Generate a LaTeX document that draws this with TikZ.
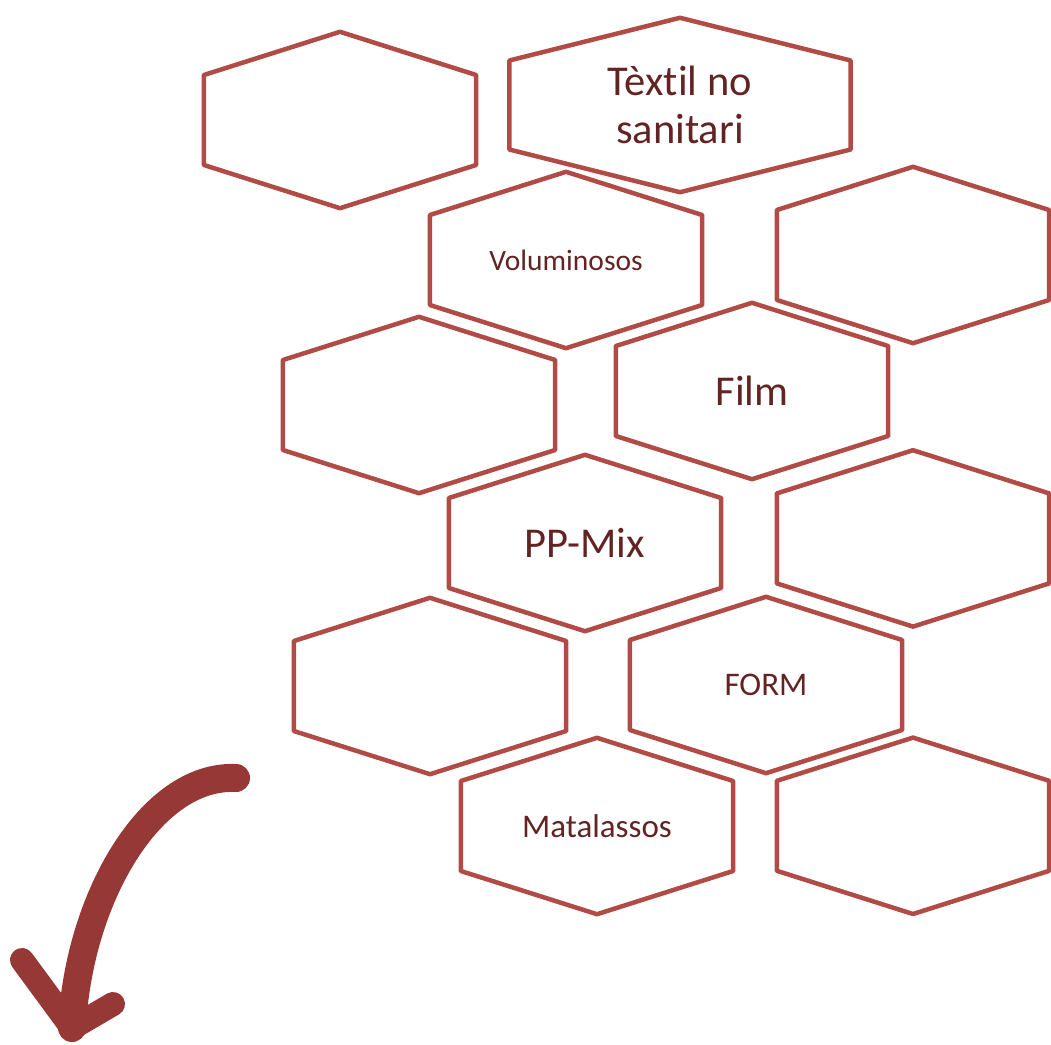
\documentclass[tikz,border=0pt]{standalone}
\usepackage{fontspec}
\setmainfont{Carlito}[Ligatures=NoCommon]
\usepackage{tikz}
\usetikzlibrary{calc, positioning}
\definecolor{hexred}{RGB}{176,75,70}
\definecolor{arrowred}{RGB}{150,56,53}
\definecolor{textred}{RGB}{100,35,35}
\tikzstyle{cell} = [rectangle, minimum width=272pt, minimum height=176pt, inner sep=0pt, text centered, text=textred, align=center]
\tikzstyle{widecell} = [cell, minimum width=341pt, minimum height=174pt]
\tikzstyle{hexline} = [draw=hexred, line width=4.5pt, line join=round]
\tikzstyle{brush} = [draw=arrowred, line width=28pt, line cap=round, line join=round]
\tikzstyle{bigtext} = [font=\fontsize{42.5}{48}\selectfont]
\tikzstyle{midtext} = [font=\fontsize{33}{38}\selectfont]
\tikzstyle{smalltext} = [font=\fontsize{29.5}{34}\selectfont]
\newcommand{\hexframe}[1]{%
	\draw[hexline] (#1.north) -- ($(#1.north east)!0.245!(#1.south east)$) -- ($(#1.north east)!0.755!(#1.south east)$) -- (#1.south) -- ($(#1.north west)!0.755!(#1.south west)$) -- ($(#1.north west)!0.245!(#1.south west)$) -- cycle;}

\begin{document}
\begin{tikzpicture}[x=1pt, y=-1pt]
		\useasboundingbox (0,0) rectangle (1051,1044);
		% hexagon cells
		\node (EmptyA) [cell] at (340,120) {};
		\node (Textil) [widecell, bigtext] at (680,105) {Tèxtil no\\sanitari};
		\node (Voluminosos) [cell, smalltext] at (566,260) {Voluminosos};
		\node (EmptyB) [cell] at (913,255) {};
		\node (EmptyC) [cell] at (419,405) {};
		\node (Film) [cell, bigtext] at (752,391) {Film};
		\node (PPMix) [cell, bigtext] at (585,543) {PP-Mix};
		\node (EmptyD) [cell, below = 107pt of EmptyB] {};
		\node (EmptyE) [cell] at (430,686) {};
		\node (Form) [cell, midtext] at (766,685) {FORM};
		\node (Matalassos) [cell, midtext] at (597,826) {Matalassos};
		\node (EmptyF) [cell, below = 111pt of EmptyD] {};
		\foreach \cellname in {EmptyA, Textil, Voluminosos, EmptyB, EmptyC, Film, PPMix, EmptyD, EmptyE, Form, Matalassos, EmptyF}
			\hexframe{\cellname};
		% curved arrow
		\coordinate (ArrowTail) at (236,778);
		\coordinate (ArrowTip) at (72,1028);
		\coordinate (WingLeft) at (22,960);
		\coordinate (WingRight) at (113,1004);
		\draw [brush] (ArrowTail) .. controls (150,774) and (78,900) .. (ArrowTip);
		\draw [brush, line width=24pt] (WingLeft) -- (ArrowTip) -- (WingRight);
\end{tikzpicture}
\end{document}
